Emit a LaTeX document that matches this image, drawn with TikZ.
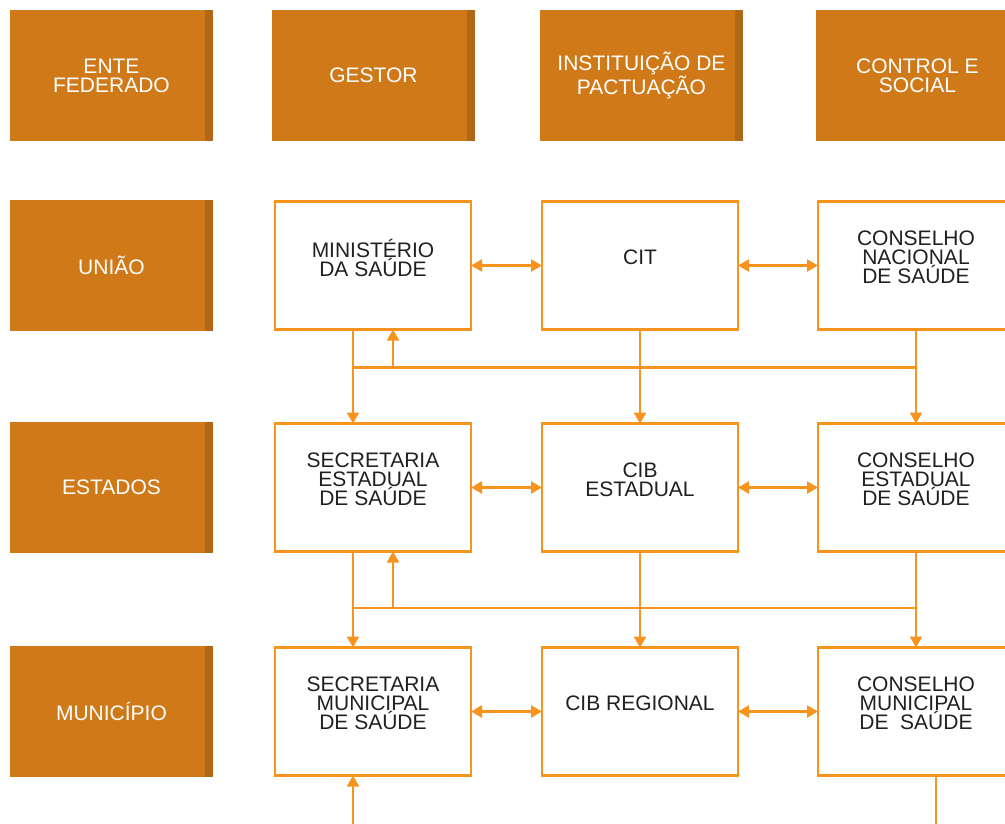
\documentclass[tikz,border=0pt]{standalone}
\usepackage{fontspec}
\setmainfont{Liberation Sans}
\usepackage{tikz}
\usetikzlibrary{arrows.meta,positioning}
\definecolor{ocre}{RGB}{207,121,24}
\definecolor{ocredark}{RGB}{176,104,22}
\definecolor{laranja}{RGB}{247,148,30}
\definecolor{texto}{RGB}{35,31,32}
\tikzset{
    %Define standard arrow tip
    >={Triangle[length=11pt,width=12pt]},
    %Define style for header boxes
    cabeca/.style={
           rectangle,
           fill=ocre,
           minimum width=203pt,
           minimum height=131pt,
           inner sep=0pt, outer sep=0pt,
           font=\fontsize{21}{19}\selectfont,
           text=white,
           align=center,
           path picture={\fill[ocredark]
              ([xshift=-8pt]path picture bounding box.north east)
              rectangle (path picture bounding box.south east);}
           },
    %Define style for outlined boxes
    orgao/.style={
           rectangle,
           draw=laranja, line width=2.4pt,
           minimum width=196pt,
           minimum height=128pt,
           inner sep=0pt, outer sep=0pt,
           text depth=16pt,
           font=\fontsize{21}{19}\selectfont,
           text=texto,
           align=center},
    % Define arrow style
    fio/.style={
           draw=laranja,
           line width=2.3pt}
}
\begin{document}
\begin{tikzpicture}[fio]
\useasboundingbox (0,0) rectangle (1005pt,-823pt);
\clip (0,0) rectangle (1005pt,-823pt);

 %headers
\node[cabeca] (ente) at (111.5pt,-75.5pt) {ENTE\\FEDERADO};
\node[cabeca, right=59pt of ente] (gestor) {GESTOR};
\node[cabeca, right=65pt of gestor] (inst) {INSTITUIÇÃO DE\\PACTUAÇÃO};
\node[cabeca, right=73pt of inst] (ctrl) {CONTROL E\\SOCIAL};

 %left column
\node[cabeca, below=59pt of ente] (uniao) {UNIÃO};
\node[cabeca, below=91pt of uniao] (estados) {ESTADOS};
\node[cabeca, below=93pt of estados] (mun) {MUNICÍPIO};

 %boxes
\node[orgao, right=62pt of uniao] (ms) {MINISTÉRIO\\DA SAÚDE};
\node[orgao, right=71pt of ms] (cit) {CIT};
\node[orgao, right=80pt of cit] (cns) {CONSELHO\\NACIONAL\\DE SAÚDE};
\node[orgao, right=62pt of estados] (ses) {SECRETARIA\\ESTADUAL\\DE SAÚDE};
\node[orgao, right=71pt of ses] (cibe) {CIB\\ESTADUAL};
\node[orgao, right=80pt of cibe] (ces) {CONSELHO\\ESTADUAL\\DE SAÚDE};
\node[orgao, right=62pt of mun] (sms) {SECRETARIA\\MUNICIPAL\\DE SAÚDE};
\node[orgao, right=71pt of sms] (cibr) {CIB REGIONAL};
\node[orgao, right=80pt of cibr] (cms) {CONSELHO\\MUNICIPAL\\DE\ \ SAÚDE};

\coordinate (bus1) at ([yshift=-38pt]ms.south);
\coordinate (bus2) at ([yshift=-56.5pt]ses.south);
\coordinate (entrada) at ([xshift=-20pt,yshift=-60pt]sms.south);
\coordinate (saida) at ([xshift=20pt,yshift=-60pt]cms.south);

 %horizontal links
\draw[<->] (ms) -- (cit);
\draw[<->] (cit) -- (cns);
\draw[<->] (ses) -- (cibe);
\draw[<->] (cibe) -- (ces);
\draw[<->] (sms) -- (cibr);
\draw[<->] (cibr) -- (cms);

 %vertical links
\draw[->] ([xshift=-20pt]ms.south) -- ([xshift=-20pt]ses.north);
\draw ([xshift=-20pt]ms.south |- bus1) -- (cns.south |- bus1);
\draw[->] ([xshift=20pt]ms.south |- bus1) -- ([xshift=20pt]ms.south);
\draw[->] (cit) -- (cibe);
\draw[->] (cns) -- (ces);

\draw[->] ([xshift=-20pt]ses.south) -- ([xshift=-20pt]sms.north);
\draw ([xshift=-20pt]ses.south |- bus2) -- (ces.south |- bus2);
\draw[->] ([xshift=20pt]ses.south |- bus2) -- ([xshift=20pt]ses.south);
\draw[->] (cibe) -- (cibr);
\draw[->] (ces) -- (cms);

\draw[->] (entrada) -- (entrada |- sms.south);
\draw (saida |- cms.south) -- (saida);
\end{tikzpicture}
\end{document}
